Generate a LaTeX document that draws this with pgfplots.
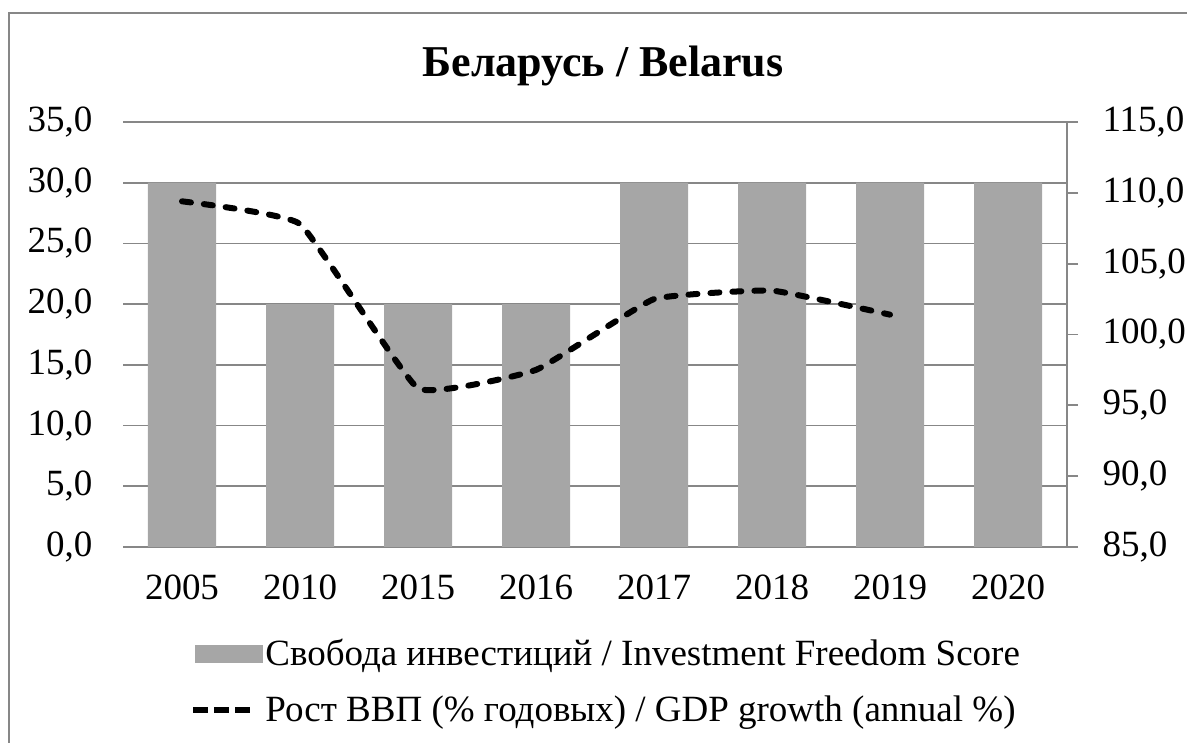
\documentclass[border=0pt]{standalone}
\usepackage{fontspec}
\setmainfont{Liberation Serif}
\usepackage{pgfplots}
\pgfplotsset{compat=1.18}
\definecolor{barg}{HTML}{A6A6A6}
\definecolor{gridg}{HTML}{878787}
\begin{document}
\begin{tikzpicture}[x=1pt,y=1pt]
\useasboundingbox (0,0) rectangle (1187,743);
\draw[gridg, line width=2pt] (9,0) -- (9,730) -- (1188,730);
\node[font=\bfseries\fontsize{44}{50}\selectfont] at (603,743-66) {Беларусь / Belarus};
\begin{axis}[
  at={(123pt,196pt)}, anchor=south west,
  width=944pt, height=425pt, scale only axis,
  xmin=-0.5, xmax=7.5, ymin=0, ymax=35,
  xtick={0,...,7},
  xticklabels={2005,2010,2015,2016,2017,2018,2019,2020},
  ytick={0,5,...,35},
  axis x line*=bottom, axis y line*=left,
  y axis line style={draw=none},
  x axis line style={gridg, line width=2pt, -},
  major tick length=0pt,
  tick style={draw=none},
  ymajorgrids, grid style={gridg, line width=1.8pt},
  ticklabel style={font=\fontsize{37}{42}\selectfont},
  xticklabel style={yshift=-24pt},
  yticklabel style={xshift=-27pt},
  /pgf/number format/.cd, fixed, fixed zerofill, precision=1, use comma, assume math mode=true,
]
\addplot[ybar, bar width=68pt, fill=barg, draw=none, bar shift=0pt] coordinates {
 (0,30) (1,20) (2,20) (3,20) (4,30) (5,30) (6,30) (7,30)};
\end{axis}
\begin{axis}[
  at={(123pt,196pt)}, anchor=south west,
  width=944pt, height=425pt, scale only axis,
  xmin=-0.5, xmax=7.5, ymin=85, ymax=115,
  axis x line=none, axis y line*=right,
  ytick={85,90,...,115},
  y axis line style={gridg, line width=2pt, -},
  ytick style={gridg, line width=1.8pt},
  major tick length=11pt, tick align=outside,
  ticklabel style={font=\fontsize{37}{42}\selectfont},
  yticklabel style={xshift=21pt},
  /pgf/number format/.cd, fixed, fixed zerofill, precision=1, use comma, assume math mode=true,
  /pgfplots/.cd,
  legend style={at={(0.068,-0.205)}, anchor=north west, draw=none, fill=none,
    font=\fontsize{37}{42}\selectfont, row sep=23pt, cells={anchor=west},
    nodes={inner sep=3pt}},
]
\addlegendimage{legend image code/.code={\fill[barg] (0pt,-8.5pt) rectangle (67pt,8.5pt);}}
\addlegendentry{Свобода инвестиций / Investment Freedom Score}
\addplot[black, line width=6pt, dash pattern=on 9pt off 13pt, line cap=round, smooth, tension=0.2,
  legend image code/.code={\path[draw=none, fill=none] (0pt,0pt) -- (67pt,0pt);\draw[black, line width=5.5pt, line cap=butt, dash pattern=on 15pt off 6pt] (-2pt,0pt) -- (55pt,0pt);}]
 coordinates {(0,109.4) (1,107.8) (2,96.2) (3,97.5) (4,102.5) (5,103.1) (6,101.4)};
\addlegendentry{Рост ВВП (\% годовых) / GDP growth (annual \%)}
\end{axis}
\end{tikzpicture}
\end{document}
